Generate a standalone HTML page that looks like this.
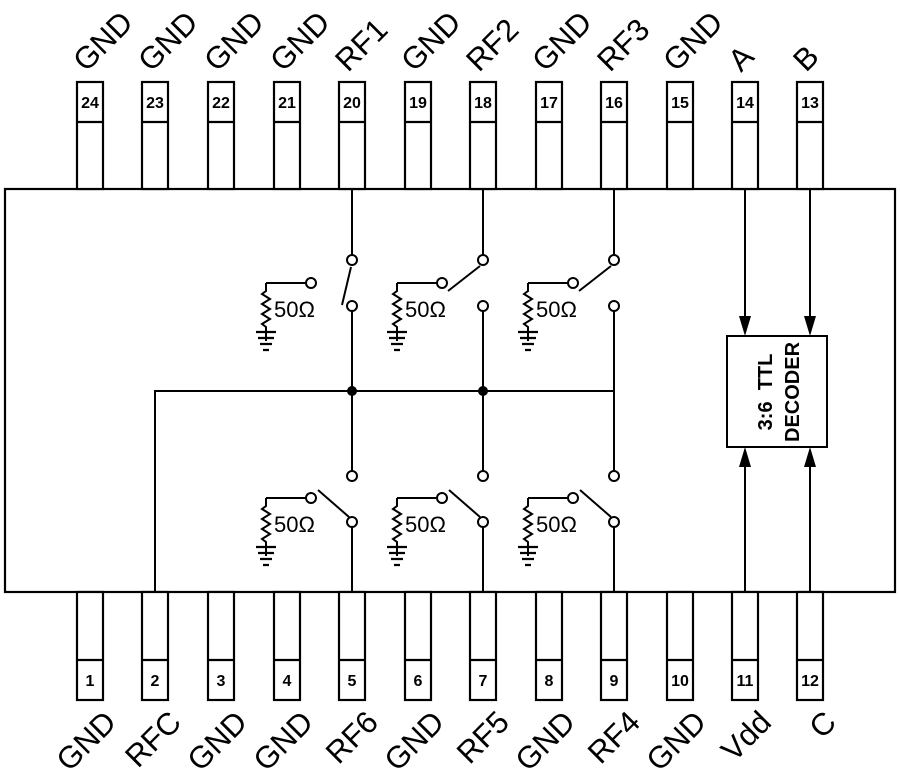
<!DOCTYPE html>
<html><head><meta charset="utf-8"><style>
html,body{margin:0;padding:0;background:#fff}
svg{display:block}
text{font-family:"Liberation Sans",sans-serif;fill:#000}
</style></head><body>
<svg width="900" height="779" viewBox="0 0 900 779" xmlns="http://www.w3.org/2000/svg">
<defs>
<g id="res">
<path d="M0,0 L0,8 L-4,11 L4,16 L-4,21 L4,26 L-4,31 L4,36 L-4,41 L0,44 L0,58" fill="none" stroke="#000" stroke-width="2"/>
<path d="M-10,49 H10 M-8,55 H8 M-6,61 H6 M-3,67 H3" stroke="#000" stroke-width="2.2"/>
</g>
</defs>
<g fill="none" stroke="#000" stroke-width="2.2">
<rect x="5" y="189" width="890" height="403" fill="#fff"/>
</g>
<g id="pins" fill="#fff" stroke="#000" stroke-width="2.2">
<rect x="77" y="82" width="26" height="107"/><line x1="77" y1="122" x2="103" y2="122"/>
<rect x="142" y="82" width="26" height="107"/><line x1="142" y1="122" x2="168" y2="122"/>
<rect x="208" y="82" width="26" height="107"/><line x1="208" y1="122" x2="234" y2="122"/>
<rect x="274" y="82" width="26" height="107"/><line x1="274" y1="122" x2="300" y2="122"/>
<rect x="339" y="82" width="26" height="107"/><line x1="339" y1="122" x2="365" y2="122"/>
<rect x="405" y="82" width="26" height="107"/><line x1="405" y1="122" x2="431" y2="122"/>
<rect x="470" y="82" width="26" height="107"/><line x1="470" y1="122" x2="496" y2="122"/>
<rect x="536" y="82" width="26" height="107"/><line x1="536" y1="122" x2="562" y2="122"/>
<rect x="601" y="82" width="26" height="107"/><line x1="601" y1="122" x2="627" y2="122"/>
<rect x="667" y="82" width="26" height="107"/><line x1="667" y1="122" x2="693" y2="122"/>
<rect x="732" y="82" width="26" height="107"/><line x1="732" y1="122" x2="758" y2="122"/>
<rect x="797" y="82" width="26" height="107"/><line x1="797" y1="122" x2="823" y2="122"/>

<rect x="77" y="592" width="26" height="108"/><line x1="77" y1="660" x2="103" y2="660"/>
<rect x="142" y="592" width="26" height="108"/><line x1="142" y1="660" x2="168" y2="660"/>
<rect x="208" y="592" width="26" height="108"/><line x1="208" y1="660" x2="234" y2="660"/>
<rect x="274" y="592" width="26" height="108"/><line x1="274" y1="660" x2="300" y2="660"/>
<rect x="339" y="592" width="26" height="108"/><line x1="339" y1="660" x2="365" y2="660"/>
<rect x="405" y="592" width="26" height="108"/><line x1="405" y1="660" x2="431" y2="660"/>
<rect x="470" y="592" width="26" height="108"/><line x1="470" y1="660" x2="496" y2="660"/>
<rect x="536" y="592" width="26" height="108"/><line x1="536" y1="660" x2="562" y2="660"/>
<rect x="601" y="592" width="26" height="108"/><line x1="601" y1="660" x2="627" y2="660"/>
<rect x="667" y="592" width="26" height="108"/><line x1="667" y1="660" x2="693" y2="660"/>
<rect x="732" y="592" width="26" height="108"/><line x1="732" y1="660" x2="758" y2="660"/>
<rect x="797" y="592" width="26" height="108"/><line x1="797" y1="660" x2="823" y2="660"/>
</g>
<g font-size="16" font-weight="bold" text-anchor="middle">
<text x="90" y="108">24</text><text x="155" y="108">23</text><text x="221" y="108">22</text><text x="287" y="108">21</text><text x="352" y="108">20</text><text x="418" y="108">19</text><text x="483" y="108">18</text><text x="549" y="108">17</text><text x="614" y="108">16</text><text x="680" y="108">15</text><text x="745" y="108">14</text><text x="810" y="108">13</text>
<text x="90" y="686">1</text><text x="155" y="686">2</text><text x="221" y="686">3</text><text x="287" y="686">4</text><text x="352" y="686">5</text><text x="418" y="686">6</text><text x="483" y="686">7</text><text x="549" y="686">8</text><text x="614" y="686">9</text><text x="680" y="686">10</text><text x="745" y="686">11</text><text x="810" y="686">12</text>
</g>
<g font-size="31">
<text transform="translate(86,73) rotate(-45)">GND</text>
<text transform="translate(151,73) rotate(-45)">GND</text>
<text transform="translate(217,73) rotate(-45)">GND</text>
<text transform="translate(283,73) rotate(-45)">GND</text>
<text transform="translate(348,73) rotate(-45)">RF1</text>
<text transform="translate(414,73) rotate(-45)">GND</text>
<text transform="translate(479,73) rotate(-45)">RF2</text>
<text transform="translate(545,73) rotate(-45)">GND</text>
<text transform="translate(610,73) rotate(-45)">RF3</text>
<text transform="translate(676,73) rotate(-45)">GND</text>
<text transform="translate(741,73) rotate(-45)">A</text>
<text transform="translate(806,73) rotate(-45)">B</text>
</g>
<g font-size="31" text-anchor="end">
<text transform="translate(118,724) rotate(-45)">GND</text>
<text transform="translate(183,724) rotate(-45)">RFC</text>
<text transform="translate(249,724) rotate(-45)">GND</text>
<text transform="translate(315,724) rotate(-45)">GND</text>
<text transform="translate(380,724) rotate(-45)">RF6</text>
<text transform="translate(446,724) rotate(-45)">GND</text>
<text transform="translate(511,724) rotate(-45)">RF5</text>
<text transform="translate(577,724) rotate(-45)">GND</text>
<text transform="translate(642,724) rotate(-45)">RF4</text>
<text transform="translate(708,724) rotate(-45)">GND</text>
<text transform="translate(773,724) rotate(-45)">Vdd</text>
<text transform="translate(838,724) rotate(-45)">C</text>
</g>
<g fill="none" stroke="#000" stroke-width="2">
<line x1="352" y1="189" x2="352" y2="255"/>
<line x1="483" y1="189" x2="483" y2="255"/>
<line x1="614" y1="189" x2="614" y2="255"/>
<line x1="352" y1="311" x2="352" y2="471"/>
<line x1="483" y1="311" x2="483" y2="471"/>
<line x1="614" y1="311" x2="614" y2="471"/>
<line x1="352" y1="527" x2="352" y2="592"/>
<line x1="483" y1="527" x2="483" y2="592"/>
<line x1="614" y1="527" x2="614" y2="592"/>
<polyline points="155,592 155,391 614,391"/>
<circle cx="352" cy="260" r="5" fill="#fff"/><circle cx="352" cy="306" r="5" fill="#fff"/>
<circle cx="483" cy="260" r="5" fill="#fff"/><circle cx="483" cy="306" r="5" fill="#fff"/>
<circle cx="614" cy="260" r="5" fill="#fff"/><circle cx="614" cy="306" r="5" fill="#fff"/>
<circle cx="352" cy="476" r="5" fill="#fff"/><circle cx="352" cy="522" r="5" fill="#fff"/>
<circle cx="483" cy="476" r="5" fill="#fff"/><circle cx="483" cy="522" r="5" fill="#fff"/>
<circle cx="614" cy="476" r="5" fill="#fff"/><circle cx="614" cy="522" r="5" fill="#fff"/>
<polyline points="266,283 306,283"/><circle cx="311" cy="283" r="5"/>
<polyline points="397,283 437,283"/><circle cx="442" cy="283" r="5"/>
<polyline points="528,283 568,283"/><circle cx="573" cy="283" r="5"/>
<polyline points="266,498 306,498"/><circle cx="311" cy="498" r="5"/>
<polyline points="397,498 437,498"/><circle cx="442" cy="498" r="5"/>
<polyline points="528,498 568,498"/><circle cx="573" cy="498" r="5"/>
<line x1="342" y1="305" x2="351" y2="267"/>
<line x1="448" y1="291" x2="480" y2="266"/>
<line x1="579" y1="291" x2="611" y2="266"/>
<line x1="318" y1="490" x2="349" y2="517"/>
<line x1="449" y1="490" x2="480" y2="517"/>
<line x1="580" y1="490" x2="611" y2="517"/>
<rect x="727" y="336" width="100" height="111" fill="#fff"/>
<line x1="745" y1="189" x2="745" y2="320"/>
<line x1="810" y1="189" x2="810" y2="320"/>
<line x1="745" y1="462" x2="745" y2="592"/>
<line x1="810" y1="462" x2="810" y2="592"/>
</g>
<g fill="#000">
<circle cx="352" cy="391" r="5"/><circle cx="483" cy="391" r="5"/>
<polygon points="739,316 751,316 745,336"/>
<polygon points="804,316 816,316 810,336"/>
<polygon points="739,467 751,467 745,447"/>
<polygon points="804,467 816,467 810,447"/>
</g>
<use href="#res" x="266" y="283"/><use href="#res" x="397" y="283"/><use href="#res" x="528" y="283"/>
<use href="#res" x="266" y="498"/><use href="#res" x="397" y="498"/><use href="#res" x="528" y="498"/>
<g font-size="22">
<text x="274" y="317">50Ω</text><text x="405" y="317">50Ω</text><text x="536" y="317">50Ω</text>
<text x="274" y="532">50Ω</text><text x="405" y="532">50Ω</text><text x="536" y="532">50Ω</text>
</g>
<g font-size="20" font-weight="bold" text-anchor="middle">
<text transform="translate(772,392) rotate(-90)" xml:space="preserve">3:6  TTL</text>
<text transform="translate(799,392) rotate(-90)">DECODER</text>
</g>
</svg>
</body></html>
